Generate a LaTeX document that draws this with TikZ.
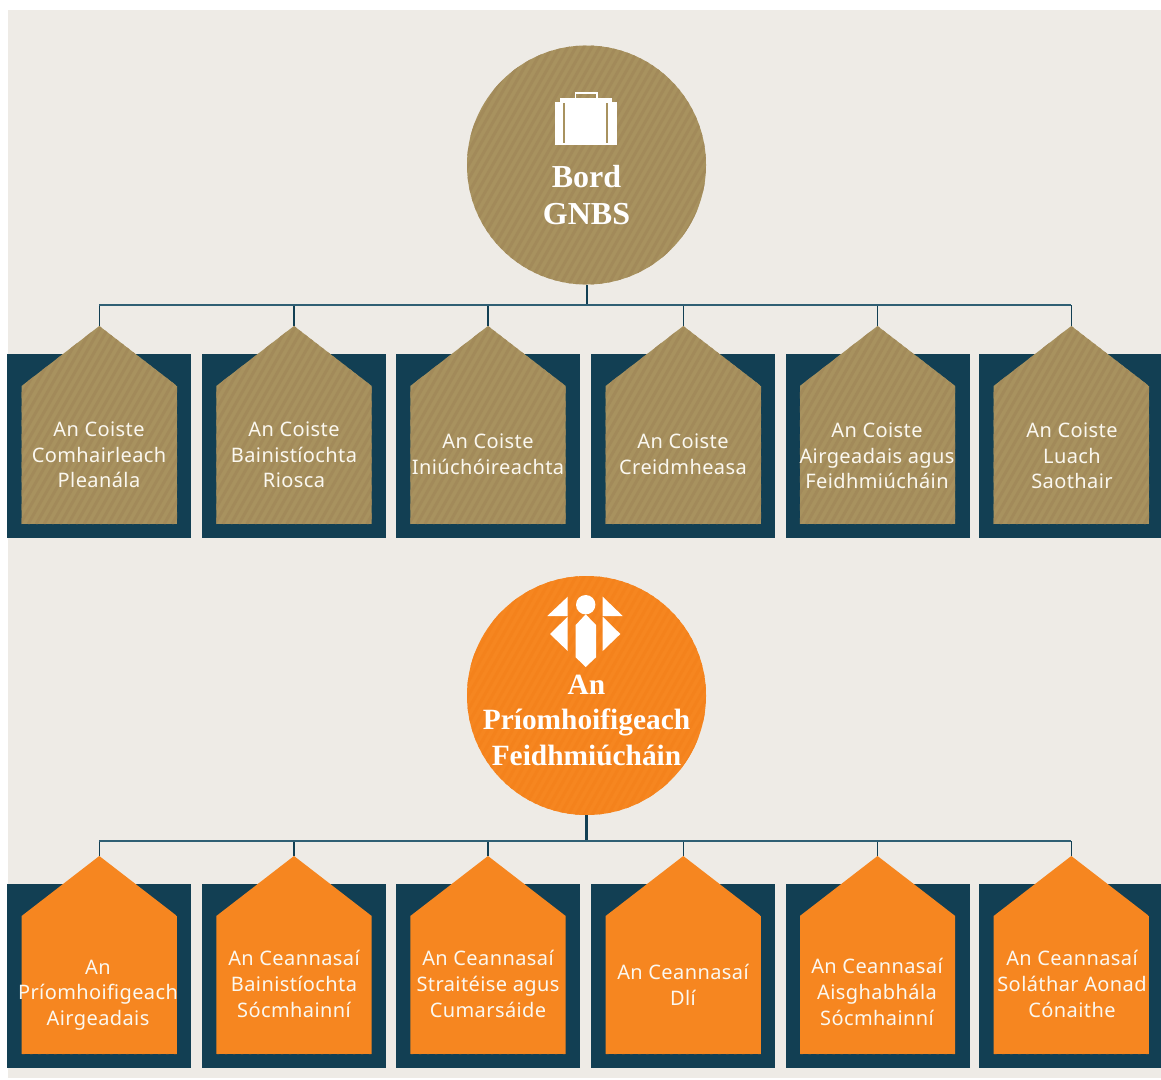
\documentclass[tikz,border=0pt]{standalone}
\usepackage{fontspec}
\setmainfont{Noto Sans}
\newfontfamily\headfont{Liberation Serif}
\newfontfamily\bodyfont{Noto Sans}[LetterSpace=2]
\definecolor{paper}{HTML}{EEEBE6}
\definecolor{navy}{HTML}{123F53}
\definecolor{wire}{HTML}{2F5F74}
\definecolor{tan}{HTML}{A8925F}
\definecolor{tanstripe}{HTML}{A28A5A}
\definecolor{orange}{HTML}{F68620}
\definecolor{orangestripe}{HTML}{F4821C}
\definecolor{cream}{HTML}{FBF8F0}
\tikzset{
  wirebus/.style={draw=wire,line width=1.3pt},
  wiredrop/.style={draw=navy,line width=1.5pt},
  wiretrunk/.style={draw=navy,line width=2pt},
  backbox/.style={fill=navy,minimum width=184pt,minimum height=184pt,inner sep=0pt,outer sep=0pt},
  boxtext/.style={text=cream,align=center,inner sep=0pt,font={\bodyfont\fontsize{20}{25.7}\selectfont}},
  headtext/.style={text=white,align=center,inner sep=0pt,font={\headfont\bfseries\fontsize{32}{37}\selectfont}},
  disc/.style={circle,minimum size=239pt,inner sep=0pt,outer sep=0pt},
  glyph/.style={fill=white,draw=none},
}
% #1 x-min, #2 x-max, #3 y-min, #4 y-max, #5 colour: diagonal stripes
\newcommand{\hatchband}[5]{%
  \pgfmathsetmacro{\hatchrun}{(#4-#3)/1.75}%
  \pgfmathsetmacro{\hatchstart}{#1-\hatchrun}%
  \pgfmathsetmacro{\hatchnext}{\hatchstart+8}%
  \pgfmathsetmacro{\hatchend}{#2}%
  \foreach \q in {\hatchstart,\hatchnext,...,\hatchend}{%
    \draw[#5,line width=3pt] (\q,#4) -- ++(\hatchrun,#3-#4);
  }%
}
% #1 name, #2 centre x, #3 row offset, #4 fill, #5 stripe, #6 text centre y, #7 text x, #8 text
\newcommand{\housecard}[8]{%
  \node[backbox] (#1box) at (#2,446+#3) {};
  \coordinate (#1top) at (#2,326+#3);
  \begin{scope}
    \path[clip] (#2-77.7,386+#3) -- (#1top) -- (#2+77.7,386+#3) -- (#2+77.7,524+#3) -- (#2-77.7,524+#3) -- cycle;
    \fill[#4] (#2-78,326+#3) rectangle (#2+78,524+#3);
    \hatchband{#2-78}{#2+78}{326+#3}{524+#3}{#5}
  \end{scope}
  \node[boxtext] (#1label) at (#7,#6) {#8};
}
\begin{document}
\begin{tikzpicture}[x=1pt,y=-1pt]
\useasboundingbox (0,0) rectangle (1161,1079);
\fill[paper] (8,10) rectangle (1161,1078);

% ---- top disc
\begin{scope}
  \path[clip] (586.5,165) circle[radius=119.5];
  \fill[tan] (460,40) rectangle (710,290);
  \hatchband{460}{710}{40}{290}{tanstripe}
\end{scope}
\node[disc] (board) at (586.5,165) {};
\node[headtext] (boardlabel) at (586.5,195.3) {Bord\\GNBS};
% briefcase
\fill[glyph] (555,102) rectangle (617,145);
\fill[glyph] (560,98) rectangle (612,103);
\draw[white,line width=1.8pt] (575.5,99) -- (575.5,92.6) -- (596.6,92.6) -- (596.6,99);
\fill[tan] (563,103) rectangle (564.7,142.7);
\fill[tan] (606.2,103) rectangle (607.9,142.7);

% ---- lower disc
\begin{scope}
  \path[clip] (586.5,695.5) circle[radius=119.5];
  \fill[orange] (460,570) rectangle (710,820);
  \hatchband{460}{710}{570}{820}{orangestripe}
\end{scope}
\node[disc] (chief) at (586.5,695.5) {};
\node[headtext,font={\headfont\bfseries\fontsize{29.4}{35.5}\selectfont}] (chieflabel) at (586.5,720) {An\\Príomhoifigeach\\Feidhmiúcháin};
% emblem
\fill[glyph] (585.7,604.7) circle[radius=9.7];
\fill[glyph] (585.7,614.3) -- (596,625) -- (596,657.3) -- (585.7,667) -- (575.7,657.3) -- (575.7,625) -- cycle;
\fill[glyph] (567.7,596.7) -- (567.7,616) -- (547.3,616) -- cycle;
\fill[glyph] (602.7,596.7) -- (602.7,616) -- (622.7,616) -- cycle;
\fill[glyph] (567.7,616.7) -- (567.7,651) -- (550,634) -- cycle;
\fill[glyph] (602.7,616.7) -- (602.7,651) -- (620.3,634) -- cycle;

% ---- cards, top row
\housecard{a}{99.3}{0}{tan}{tanstripe}{455}{99}{An Coiste\\Comhairleach\\Pleanála}
\housecard{b}{294}{0}{tan}{tanstripe}{455}{294}{An Coiste\\Bainistíochta\\Riosca}
\housecard{c}{488}{0}{tan}{tanstripe}{454.5}{488}{An Coiste\\Iniúchóireachta}
\housecard{d}{683.3}{0}{tan}{tanstripe}{454.5}{683}{An Coiste\\Creidmheasa}
\housecard{e}{877.5}{0}{tan}{tanstripe}{456}{877}{An Coiste\\Airgeadais agus\\Feidhmiúcháin}
\housecard{f}{1071.3}{0}{tan}{tanstripe}{456}{1072}{An Coiste\\Luach\\Saothair}

% ---- cards, lower row
\housecard{p}{99.3}{530}{orange}{orangestripe}{995}{98}{An\\Príomhoifigeach\\Airgeadais}
\housecard{q}{294}{530}{orange}{orangestripe}{984}{294}{An Ceannasaí\\Bainistíochta\\Sócmhainní}
\housecard{r}{488}{530}{orange}{orangestripe}{984}{488}{An Ceannasaí\\Straitéise agus\\Cumarsáide}
\housecard{s}{683.3}{530}{orange}{orangestripe}{985}{683}{An Ceannasaí\\Dlí}
\housecard{t}{877.5}{530}{orange}{orangestripe}{992}{877}{An Ceannasaí\\Aisghabhála\\Sócmhainní}
\housecard{u}{1071.3}{530}{orange}{orangestripe}{984}{1072}{An Ceannasaí\\Soláthar Aonad\\Cónaithe}

% ---- connectors, top tree
\coordinate (boardbus) at (586.5,305);
\foreach \n in {a,b,c,d,e,f}{
  \coordinate (\n bus) at (\n top |- boardbus);
  \draw[wiredrop] (\n bus) -- (\n top);
}
\draw[wiretrunk] (board.south) -- (boardbus);
\draw[wirebus] (abus) -- (fbus);

% ---- connectors, lower tree
\coordinate (chiefbus) at (586.5,841);
\foreach \n in {p,q,r,s,t,u}{
  \coordinate (\n bus) at (\n top |- chiefbus);
  \draw[wiredrop] (\n bus) -- (\n top);
}
\draw[wiretrunk,line width=2.5pt] (chief.south) -- (chiefbus);
\draw[wirebus] (pbus) -- (ubus);
\end{tikzpicture}
\end{document}
